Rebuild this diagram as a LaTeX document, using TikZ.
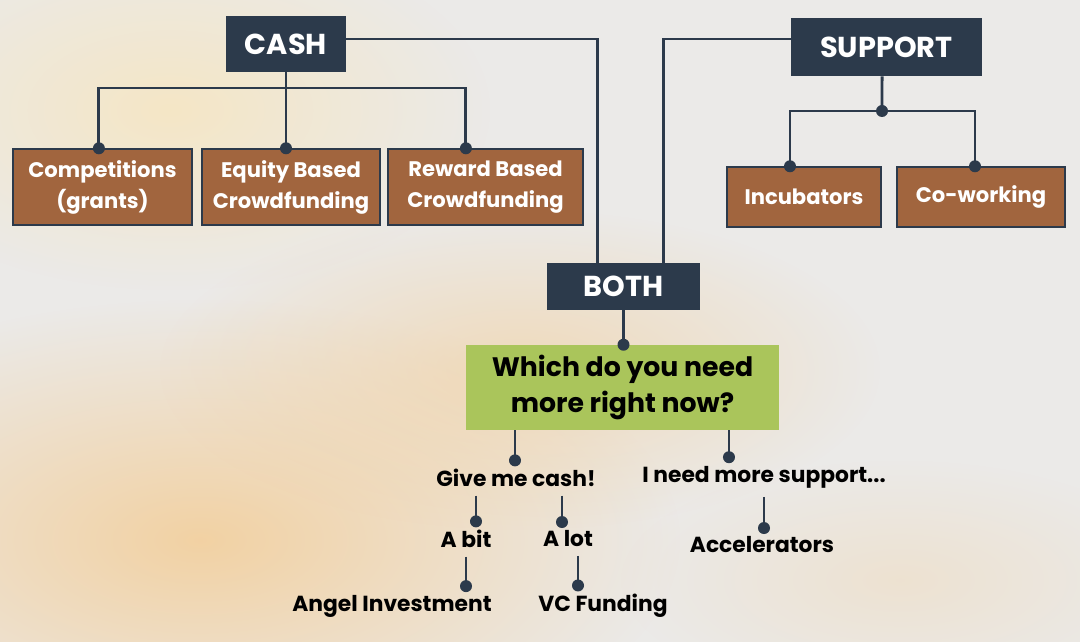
\documentclass[tikz,border=0pt]{standalone}
\usepackage{fontspec}
\setmainfont{Poppins}
\usetikzlibrary{fadings}
\definecolor{navy}{HTML}{2C3A4B}
\definecolor{rust}{HTML}{A1653E}
\definecolor{lime}{HTML}{AAC55B}
\definecolor{paper}{HTML}{EBEAE8}
\definecolor{peach}{HTML}{F3CF9C}
\definecolor{cream}{HTML}{F6E6C2}
\tikzfading[name=soft, inner color=transparent!0, outer color=transparent!100]
\tikzset{
  head/.style={fill=navy, text=white, inner sep=0pt,
    font=\bfseries\fontsize{20.5}{24}\selectfont},
  option/.style={fill=rust, draw=navy, line width=1pt, text=white, align=center,
    inner sep=0pt, font=\bfseries\fontsize{15}{22}\selectfont},
  quest/.style={fill=lime, align=center, inner sep=0pt,
    font=\bfseries\fontsize{19}{26}\selectfont},
  answer/.style={inner sep=0pt, outer ysep=0.22cm,
    font=\bfseries\fontsize{15.5}{18}\selectfont},
  link/.style={draw=navy, line width=2pt},
  knob/.style={circle, fill=navy, inner sep=0pt, minimum size=0.3cm},
  wash/.style={path fading=soft}
}
\begin{document}
\begin{tikzpicture}[x=0.025cm,y=-0.025cm]
  \useasboundingbox (0,0) rectangle (1080,642);
  % paper and watercolour
  \fill[paper] (0,0) rectangle (1080,642);
  \fill[cream, wash, opacity=.9] (170,110) ellipse (8cm and 4.5cm);
  \fill[peach, wash, opacity=.9] (200,540) ellipse (12cm and 6cm);
  \fill[peach, wash, opacity=.6] (520,370) ellipse (9cm and 4cm);
  \fill[peach, wash, opacity=.3] (900,580) ellipse (7cm and 3cm);

  % headings
  \node[head, minimum width=3cm, minimum height=1.4cm] (cash) at (286,44) {CASH};
  \node[head, minimum width=4.775cm, minimum height=1.45cm] (support) at (886.5,47) {SUPPORT};
  \node[head, minimum width=3.825cm, minimum height=1.175cm] (both) at (623.5,286.5) {BOTH};

  % options
  \node[option, minimum width=4.475cm, minimum height=1.9cm] (grants) at (102.5,187) {Competitions\\(grants)};
  \node[option, minimum width=4.45cm, minimum height=1.9cm] (equity) at (291,187) {Equity Based\\Crowdfunding};
  \node[option, minimum width=4.875cm, minimum height=1.9cm] (reward) at (485.5,187) {Reward Based\\Crowdfunding};
  \node[option, minimum width=3.85cm, minimum height=1.5cm] (incubators) at (804,197) {Incubators};
  \node[option, minimum width=4.2cm, minimum height=1.5cm] (coworking) at (981,197) {Co-working};

  \node[quest, minimum width=7.825cm, minimum height=2.125cm] (which) at (622.5,387.5) {Which do you need\\more right now?};

  \node[answer] (givecash) at (516,478) {Give me cash!};
  \node[answer] (moresupport) at (764,477) {I need more support...};
  \node[answer] (abit) at (466,539) {A bit};
  \node[answer] (alot) at (568,539) {A lot};
  \node[answer] (accel) at (762,545) {Accelerators};
  \node[answer] (angel) at (392,606) {Angel Investment};
  \node[answer] (vc) at (603,606) {VC Funding};

  % cash tree
  \coordinate (cfork) at (286,88);
  \draw[link] (cash.south) -- (cash.south |- equity.north) node[knob] {};
  \draw[link] ([xshift=-0.09cm]grants.north) node[knob] {} |- (cfork)
              -| ([xshift=-0.49cm]reward.north) node[knob] {};
  % support tree
  \coordinate (sfork) at (882,111);
  \draw[link] ([xshift=-0.11cm]support.south) -- (sfork) node[knob] {};
  \draw[link] ([xshift=-0.35cm]incubators.north) node[knob] {} |- (sfork)
              -| ([xshift=-0.15cm]coworking.north) node[knob] {};
  % both
  \draw[link] ([yshift=0.125cm]cash.east) -| ([xshift=-0.64cm]both.north);
  \draw[link] ([yshift=0.2cm]support.west) -| ([xshift=0.99cm]both.north);
  \draw[link] (both.south) -- (both.south |- which.north) node[knob] {};

  % answers
  \draw[link] ([xshift=-0.025cm]givecash.north |- which.south) -- ([xshift=-0.025cm]givecash.north) node[knob] {};
  \draw[link] ([xshift=-0.875cm]moresupport.north |- which.south)
              -- ([xshift=-0.875cm]moresupport.north) node[knob] {};
  \draw[link] ([xshift=0.25cm]abit.north |- givecash.south) -- ([xshift=0.25cm]abit.north) node[knob] {};
  \draw[link] ([xshift=-0.15cm]alot.north |- givecash.south) -- ([xshift=-0.15cm]alot.north) node[knob] {};
  \draw[link] ([xshift=0.05cm]accel.north |- moresupport.south) -- ([xshift=0.05cm]accel.north) node[knob] {};
  \draw[link] (abit.south) -- (abit.south |- angel.north) node[knob] {};
  \draw[link] ([xshift=0.25cm]alot.south) -- ([xshift=0.25cm]alot.south |- vc.north) node[knob] {};
\end{tikzpicture}
\end{document}
